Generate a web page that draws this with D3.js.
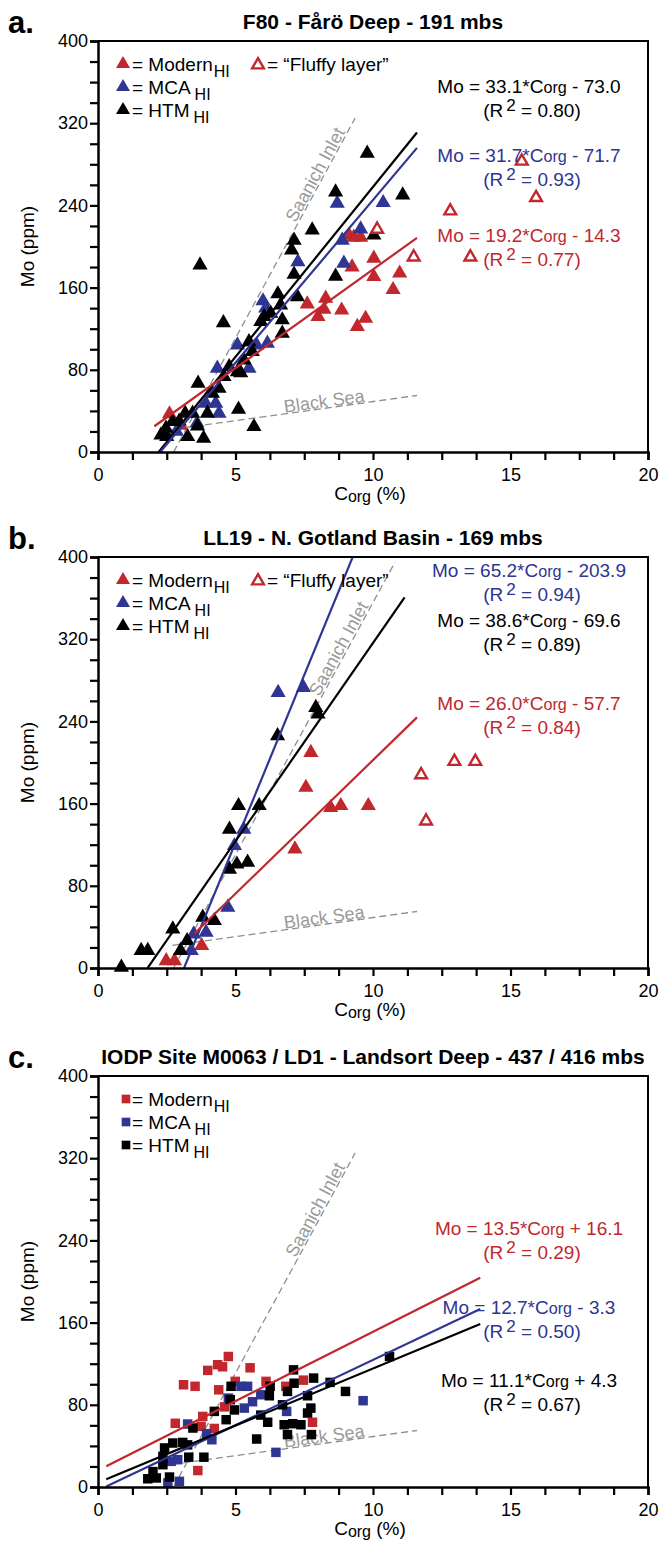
<!DOCTYPE html>
<html>
<head>
<meta charset="utf-8">
<script src="https://cdn.jsdelivr.net/npm/d3@7"></script>
<style>
  body { margin: 0; background: #fff; }
  text { font-family: "Liberation Sans", Arial, Helvetica, sans-serif; }
</style>
</head>
<body>
<svg id="fig"></svg>
<script>
// ---- data (Corg %, Mo ppm) ----
const xTicks = d3.range(0, 20.001, 1.25);
const xLabels = [0, 5, 10, 15, 20];
const yTicks = d3.range(0, 401, 20);
const yLabels = [0, 80, 160, 240, 320, 400];

const titles = ["F80 - Fårö Deep - 191 mbs", "LL19 - N. Gotland Basin - 169 mbs",
  "IODP Site M0063 / LD1 - Landsort Deep - 437 / 416 mbs"];
const letters = ["a.", "b.", "c."];

// reference lines: Saanich Inlet start + per-panel end, Black Sea
const saanichStart = [2.75, 0];
const saanichEnd = [[9.35, 325], [10.8, 395], [9.35, 325]];
const saanichLabelAt = [7.25, 8.1, 7.25];
const blackSea = [[2.7, 22], [11.6, 55]];

// panel a - F80
const aModern = [[9.13, 211], [9.3, 209], [9.55, 209], [10.03, 188.5], [9.24, 180], [10.03, 170.6],
  [10.97, 174], [10.73, 158], [8.28, 149.6], [7.61, 144], [8.22, 138.9], [8.0, 131.7], [8.86, 138],
  [9.73, 130], [9.43, 122], [2.6, 37], [3.0, 26]];
const aMCA = [[8.7, 242], [10.37, 242.6], [9.55, 217], [8.88, 206], [7.27, 185], [8.94, 183.6],
  [6.0, 147], [6.1, 140], [5.07, 104], [5.77, 104], [6.16, 105.8], [5.49, 81.4], [4.34, 81.4],
  [3.92, 47.4], [4.28, 47.4], [4.4, 37.7], [3.6, 28], [2.85, 20]];
const aHTM = [[9.79, 290.7], [8.64, 253], [11.08, 250], [7.79, 216], [10.03, 211], [7.13, 206],
  [7.04, 196.6], [3.71, 182], [7.13, 173], [8.64, 171], [7.25, 151], [6.54, 153.8], [6.64, 143],
  [6.28, 135], [5.92, 126.8], [6.7, 128.5], [6.7, 115.5], [4.56, 125.8], [5.49, 107.3], [5.61, 97.6],
  [5.31, 89.5], [4.77, 83], [5.07, 78], [4.58, 73.3], [5.19, 77], [4.4, 62], [3.64, 66.9], [4.16, 57],
  [3.98, 37.7], [5.11, 41.6], [3.17, 37.7], [3.44, 37.7], [3.62, 25.3], [3.26, 14.9], [3.84, 13.3],
  [5.67, 24.6], [2.71, 29.5], [2.29, 16.5], [2.5, 15], [2.47, 23], [2.95, 30], [6.04, 131.7]];
const aFluffy = [[10.15, 217.7], [11.48, 190.7], [15.41, 284], [15.93, 248.5], [12.81, 235.5], [13.54, 190.7]];
// fits: [slope, intercept, from, to, R2]
const aFitHTM = [33.1, -73.0, 2.2, 11.6, 0.80];
const aFitMCA = [31.7, -71.7, 2.26, 11.6, 0.93];
const aFitModern = [19.2, -14.3, 2.05, 11.6, 0.77];

// panel b - LL19
const bModern = [[7.74, 209.7], [7.56, 175.7], [8.46, 156], [8.83, 158], [9.83, 158], [7.16, 115.7],
  [3.77, 21.7], [2.48, 7], [2.78, 7]];
const bMCA = [[6.55, 268], [7.47, 273], [5.3, 135], [4.96, 119], [4.72, 59], [3.93, 34.7], [3.48, 33], [3.39, 17]];
const bHTM = [[0.85, 0.6], [1.57, 16.9], [1.81, 16.9], [2.72, 37.9], [3.0, 16.9], [3.24, 26.6], [3.81, 49.3],
  [4.23, 46], [4.78, 96], [5.05, 101], [5.44, 102.8], [4.78, 135], [5.11, 158], [5.86, 158], [6.53, 226],
  [7.92, 253.5], [8.0, 247]];
const bFluffy = [[11.75, 189], [12.96, 202], [13.72, 202], [11.93, 144]];
const bFitMCA = [65.2, -203.9, 3.13, 9.4, 0.94];
const bFitHTM = [38.6, -69.6, 1.8, 11.15, 0.89];
const bFitModern = [26.0, -57.7, 3.5, 11.6, 0.84];

// panel c - M0063 / LD1
const cModern = [[3.11, 99.5], [3.53, 98], [3.99, 113.5], [4.35, 119], [4.53, 117], [4.74, 127], [5.53, 116],
  [4.39, 94.6], [4.99, 102.8], [6.11, 102.8], [6.83, 98], [7.47, 104], [7.8, 63], [2.81, 62], [3.81, 68.7],
  [3.75, 59], [4.23, 57], [3.63, 16], [4.6, 78]];
const cMCA = [[5.2, 98], [5.44, 98], [4.74, 86.5], [5.62, 83], [5.32, 76.8], [5.92, 89.8], [6.86, 73.6],
  [9.64, 84], [6.47, 33.7], [3.26, 61.3], [3.95, 51.9], [4.14, 46], [2.66, 25], [2.9, 26.6], [2.96, 5.5], [2.54, 4]];
const cHTM = [[10.6, 127], [8.44, 101.8], [9.0, 93], [7.84, 106], [7.11, 114], [7.13, 101], [6.89, 93],
  [6.26, 98], [6.23, 88.8], [6.71, 80], [7.62, 88.8], [7.74, 76.8], [7.62, 72], [4.84, 98], [4.81, 85],
  [4.96, 75], [4.66, 65.5], [4.23, 73.6], [5.92, 70], [6.17, 63], [6.77, 60.6], [7.08, 61.6], [7.38, 60.6],
  [6.89, 51], [7.76, 51], [5.77, 46.7], [3.45, 57.4], [2.42, 38], [2.72, 42.8], [3.08, 43.4], [3.26, 41],
  [2.36, 29.8], [3.3, 29], [3.85, 29], [2.36, 21.7], [1.81, 8], [2.12, 8.8], [2.6, 9.7], [2.0, 15]];
const cFitModern = [13.5, 16.1, 0.3, 13.9, 0.29];
const cFitMCA = [12.7, -3.3, 0.3, 13.9, 0.50];
const cFitHTM = [11.1, 4.3, 0.3, 13.9, 0.67];

// ---- layout ----
const W = 660, H = 1545;
const RED = "#c1272d", BLUE = "#2e3592", BLACK = "#000", GREY = "#9a9a9a";
const FONT_EQ = 19;

const svg = d3.select("#fig").attr("width", W).attr("height", H);
const x = d3.scaleLinear().domain([0, 20]).range([98, 648]);

const panels = [
  { top: 41, bottom: 452, marker: d3.symbolTriangle, fluffy: aFluffy,
    groups: [[aModern, RED], [aMCA, BLUE], [aHTM, BLACK]],
    fits: [[aFitHTM, BLACK, 86], [aFitMCA, BLUE, 155], [aFitModern, RED, 235]] },
  { top: 557, bottom: 968, marker: d3.symbolTriangle, fluffy: bFluffy,
    groups: [[bModern, RED], [bMCA, BLUE], [bHTM, BLACK]],
    fits: [[bFitMCA, BLUE, 570], [bFitHTM, BLACK, 620], [bFitModern, RED, 703]] },
  { top: 1076, bottom: 1487, marker: d3.symbolSquare, fluffy: null,
    groups: [[cModern, RED], [cMCA, BLUE], [cHTM, BLACK]],
    fits: [[cFitModern, RED, 1228], [cFitMCA, BLUE, 1307], [cFitHTM, BLACK, 1380]] }
];

panels.forEach((p, i) => {
  const y = d3.scaleLinear().domain([0, 400]).range([p.bottom, p.top]);
  const g = svg.append("g");

  const clipId = "clip" + i;
  svg.append("clipPath").attr("id", clipId).append("rect")
    .attr("x", x(0)).attr("y", p.top).attr("width", x(20) - x(0)).attr("height", p.bottom - p.top);

  // title + letter
  g.append("text").attr("x", 373).attr("y", p.top - 12).attr("text-anchor", "middle")
    .attr("font-size", 21).attr("font-weight", "bold").text(titles[i]);
  g.append("text").attr("x", 8).attr("y", p.top - 8)
    .attr("font-size", 31).attr("font-weight", "bold").text(letters[i]);

  // reference lines
  const line = d3.line().x(d => x(d[0])).y(d => y(d[1]));
  const sEnd = saanichEnd[i];
  g.append("path").attr("d", line([saanichStart, sEnd])).attr("fill", "none")
    .attr("stroke", "#8e8e8e").attr("stroke-width", 1.3).attr("stroke-dasharray", "7,4");
  g.append("path").attr("d", line(blackSea)).attr("fill", "none")
    .attr("stroke", "#8e8e8e").attr("stroke-width", 1.3).attr("stroke-dasharray", "7,4");

  const sSlope = (sEnd[1] - saanichStart[1]) / (sEnd[0] - saanichStart[0]);
  const sAng = Math.atan2(y(sEnd[1]) - y(0), x(sEnd[0]) - x(saanichStart[0])) * 180 / Math.PI;
  const sC = saanichLabelAt[i], sY = (sC - saanichStart[0]) * sSlope;
  g.append("text").attr("transform", `translate(${x(sC)},${y(sY)}) rotate(${sAng})`)
    .attr("y", -2).attr("font-size", 18).attr("fill", GREY).text("Saanich Inlet");
  const bAng = Math.atan2(y(blackSea[1][1]) - y(blackSea[0][1]), x(blackSea[1][0]) - x(blackSea[0][0])) * 180 / Math.PI;
  const bC = 6.8, bY = blackSea[0][1] + (bC - blackSea[0][0]) * (blackSea[1][1] - blackSea[0][1]) / (blackSea[1][0] - blackSea[0][0]);
  g.append("text").attr("transform", `translate(${x(bC)},${y(bY)}) rotate(${bAng})`)
    .attr("y", -1).attr("font-size", 18).attr("fill", GREY).text("Black Sea");

  // points
  const sym = d3.symbol().type(p.marker).size(p.marker === d3.symbolSquare ? 90 : 100);
  p.groups.forEach(([pts, col]) => {
    g.append("g").selectAll("path").data(pts).join("path")
      .attr("transform", d => `translate(${x(d[0])},${y(d[1])})`)
      .attr("d", sym()).attr("fill", col);
  });
  if (p.fluffy) {
    const osym = d3.symbol().type(d3.symbolTriangle).size(60);
    g.append("g").selectAll("path").data(p.fluffy).join("path")
      .attr("transform", d => `translate(${x(d[0])},${y(d[1]) + 1})`)
      .attr("d", osym()).attr("fill", "#fff").attr("stroke", RED).attr("stroke-width", 2.4);
  }

  // regression lines + equations
  p.fits.forEach(([f, col, ty]) => {
    const [m, b, c0, c1, r2] = f;
    g.append("line").attr("clip-path", `url(#${clipId})`)
      .attr("x1", x(c0)).attr("y1", y(m * c0 + b)).attr("x2", x(c1)).attr("y2", y(m * c1 + b))
      .attr("stroke", col).attr("stroke-width", 2.2);
    const t = g.append("text").attr("x", 529).attr("y", ty + 7).attr("text-anchor", "middle")
      .attr("font-size", FONT_EQ).attr("fill", col);
    t.append("tspan").text(`Mo = ${m.toFixed(1)}*C`);
    t.append("tspan").attr("font-size", FONT_EQ * 0.85).text("org");
    t.append("tspan").text(` ${b < 0 ? "-" : "+"} ${Math.abs(b).toFixed(1)}`);
    const r = g.append("text").attr("x", 532).attr("y", ty + 31).attr("text-anchor", "middle")
      .attr("font-size", FONT_EQ).attr("fill", col);
    r.append("tspan").text("(R");
    r.append("tspan").attr("dx", 3).attr("dy", -6).attr("font-size", FONT_EQ * 0.9).text("2");
    r.append("tspan").attr("dy", 6).text(` = ${r2.toFixed(2)})`);
  });

  // legend
  const names = ["Modern", "MCA", "HTM"];
  const lsym = d3.symbol().type(p.marker).size(p.marker === d3.symbolSquare ? 75 : 85);
  names.forEach((n, k) => {
    const ly = p.top + 23 + k * 23;
    g.append("path").attr("transform", `translate(${p.marker === d3.symbolSquare ? 126 : 123},${ly})`)
      .attr("d", lsym()).attr("fill", p.groups[k][1]);
    const t = g.append("text").attr("x", 132).attr("y", ly + 7).attr("font-size", 19);
    t.append("tspan").text("= " + n);
    t.append("tspan").attr("dx", k === 0 ? 1 : 4).attr("dy", 6).attr("font-size", 16).text("HI");
  });
  if (p.fluffy) {
    const ly = p.top + 23;
    g.append("path").attr("transform", `translate(258,${ly + 1})`)
      .attr("d", d3.symbol().type(d3.symbolTriangle).size(60)()).attr("fill", "#fff")
      .attr("stroke", RED).attr("stroke-width", 2.4);
    g.append("text").attr("x", 267).attr("y", ly + 7).attr("font-size", 19).text("= \u201CFluffy layer\u201D");
  }

  // axes
  g.append("g").attr("transform", `translate(0,${p.bottom})`)
    .call(d3.axisBottom(x).tickValues(xTicks).tickSize(8).tickFormat(d => xLabels.includes(d) ? d : ""))
    .call(a => a.select(".domain").attr("stroke-width", 2.5))
    .call(a => a.selectAll(".tick line").attr("stroke-width", 2.2))
    .call(a => a.selectAll("text").attr("font-size", 18).attr("fill", "#000").attr("dy", "1.0em"));
  g.append("g").attr("transform", `translate(${x(0)},0)`)
    .call(d3.axisLeft(y).tickValues(yTicks).tickSize(8).tickFormat(d => yLabels.includes(d) ? d : ""))
    .call(a => a.select(".domain").attr("stroke-width", 2.5))
    .call(a => a.selectAll(".tick line").attr("stroke-width", 2.2))
    .call(a => a.selectAll("text").attr("font-size", 18).attr("fill", "#000").attr("x", -10));
  g.append("path").attr("fill", "none").attr("stroke", "#000").attr("stroke-width", 2)
    .attr("d", `M${x(0)},${p.top}H${x(20)}V${p.bottom}`);

  // axis titles
  const xl = g.append("text").attr("x", 370).attr("y", p.bottom + 48).attr("text-anchor", "middle").attr("font-size", 19);
  xl.append("tspan").text("C");
  xl.append("tspan").attr("font-size", 16).attr("dy", 2).text("org");
  xl.append("tspan").attr("dy", -2).text(" (%)");
  g.append("text").attr("transform", `translate(34,${(p.top + p.bottom) / 2}) rotate(-90)`)
    .attr("text-anchor", "middle").attr("font-size", 19).text("Mo (ppm)");
});
</script>
</body>
</html>
